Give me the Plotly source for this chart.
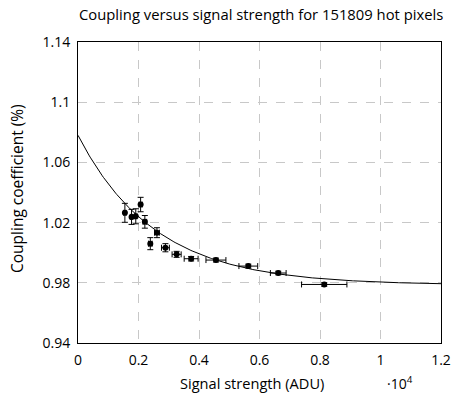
import numpy as np
import plotly.graph_objects as go

# Data (signal strength in units of 10^4 ADU, coupling in %)
signal = [0.155, 0.177, 0.191, 0.207, 0.221, 0.239, 0.261, 0.289, 0.326, 0.374, 0.456, 0.563, 0.662, 0.814]
coupling = [1.0265, 1.0238, 1.0242, 1.032, 1.0205, 1.006, 1.0133, 1.0033, 0.9989, 0.996, 0.9951, 0.9911, 0.9865, 0.9789]
coupling_err = [0.0063, 0.005, 0.005, 0.0048, 0.0042, 0.004, 0.0033, 0.0027, 0.002, 0.0015, 0.0013, 0.0013, 0.0012, 0.0012]
signal_err = [0.004, 0.004, 0.004, 0.005, 0.006, 0.006, 0.008, 0.013, 0.015, 0.023, 0.033, 0.031, 0.026, 0.075]

# Exponential fit parameters: y = fit_a + fit_b * exp(-x / fit_c)
fit_a = 0.9785
fit_b = 0.0995
fit_c = 0.255

x_ticks = [0, 0.2, 0.4, 0.6, 0.8, 1.0, 1.2]
x_tick_labels = ["0", "0.2", "0.4", "0.6", "0.8", "1", "1.2"]
y_ticks = [0.94, 0.98, 1.02, 1.06, 1.1, 1.14]
y_tick_labels = ["0.94", "0.98", "1.02", "1.06", "1.1", "1.14"]

fit_x = np.linspace(0, 1.2, 300)
fit_y = fit_a + fit_b * np.exp(-fit_x / fit_c)

FONT = "Open Sans"
W, H = 456, 393
L, R, T, B = 78, 15, 42, 50

fig = go.Figure()
fig.add_trace(go.Scatter(x=fit_x, y=fit_y, mode="lines",
                         line=dict(color="black", width=1), showlegend=False, hoverinfo="skip"))
fig.add_trace(go.Scatter(
    x=signal, y=coupling, mode="markers",
    marker=dict(color="black", size=6, symbol="circle"),
    error_y=dict(type="data", array=coupling_err, color="black", thickness=1, width=3),
    error_x=dict(type="data", array=signal_err, color="black", thickness=1, width=3),
    showlegend=False))

axis_common = dict(showline=True, linecolor="black", linewidth=1, mirror=True,
                   ticks="", automargin=False,
                   showgrid=True, gridcolor="#c8c8c8", griddash="dash", gridwidth=1,
                   zeroline=False, tickfont=dict(family=FONT, size=14, color="black"))

fig.update_layout(
    width=W, height=H,
    margin=dict(l=L, r=R, t=T, b=B),
    plot_bgcolor="white", paper_bgcolor="white",
    xaxis=dict(range=[0, 1.2], tickvals=x_ticks, ticktext=x_tick_labels, ticklabelstandoff=4,
               **axis_common),
    yaxis=dict(range=[0.94, 1.14], tickvals=y_ticks, ticktext=y_tick_labels, ticklabelstandoff=4,
               **axis_common),
)

pw = W - L - R
ph = H - T - B
def px(x):
    return (x - L) / pw
def py(y):
    return (H - B - y) / ph

fig.add_annotation(text="Coupling versus signal strength for 151809 hot pixels",
                   xref="paper", yref="paper", x=px(261), y=py(14),
                   showarrow=False, xanchor="center", yanchor="middle",
                   font=dict(family=FONT, size=14.8, color="black"))
fig.add_annotation(text="Signal strength (ADU)", xref="paper", yref="paper",
                   x=px(252), y=py(383), showarrow=False, xanchor="center", yanchor="middle",
                   font=dict(family=FONT, size=14.6, color="black"))
fig.add_annotation(text="Coupling coefficient (%)", xref="paper", yref="paper",
                   x=px(17), y=py(189), showarrow=False, xanchor="center", yanchor="middle",
                   textangle=-90, font=dict(family=FONT, size=15.5, color="black"))
fig.add_annotation(text="·10<sup>4</sup>", xref="paper", yref="paper", x=px(400), y=py(383),
                   showarrow=False, xanchor="center", yanchor="middle",
                   font=dict(family=FONT, size=14, color="black"))

fig.write_html("out.html")
